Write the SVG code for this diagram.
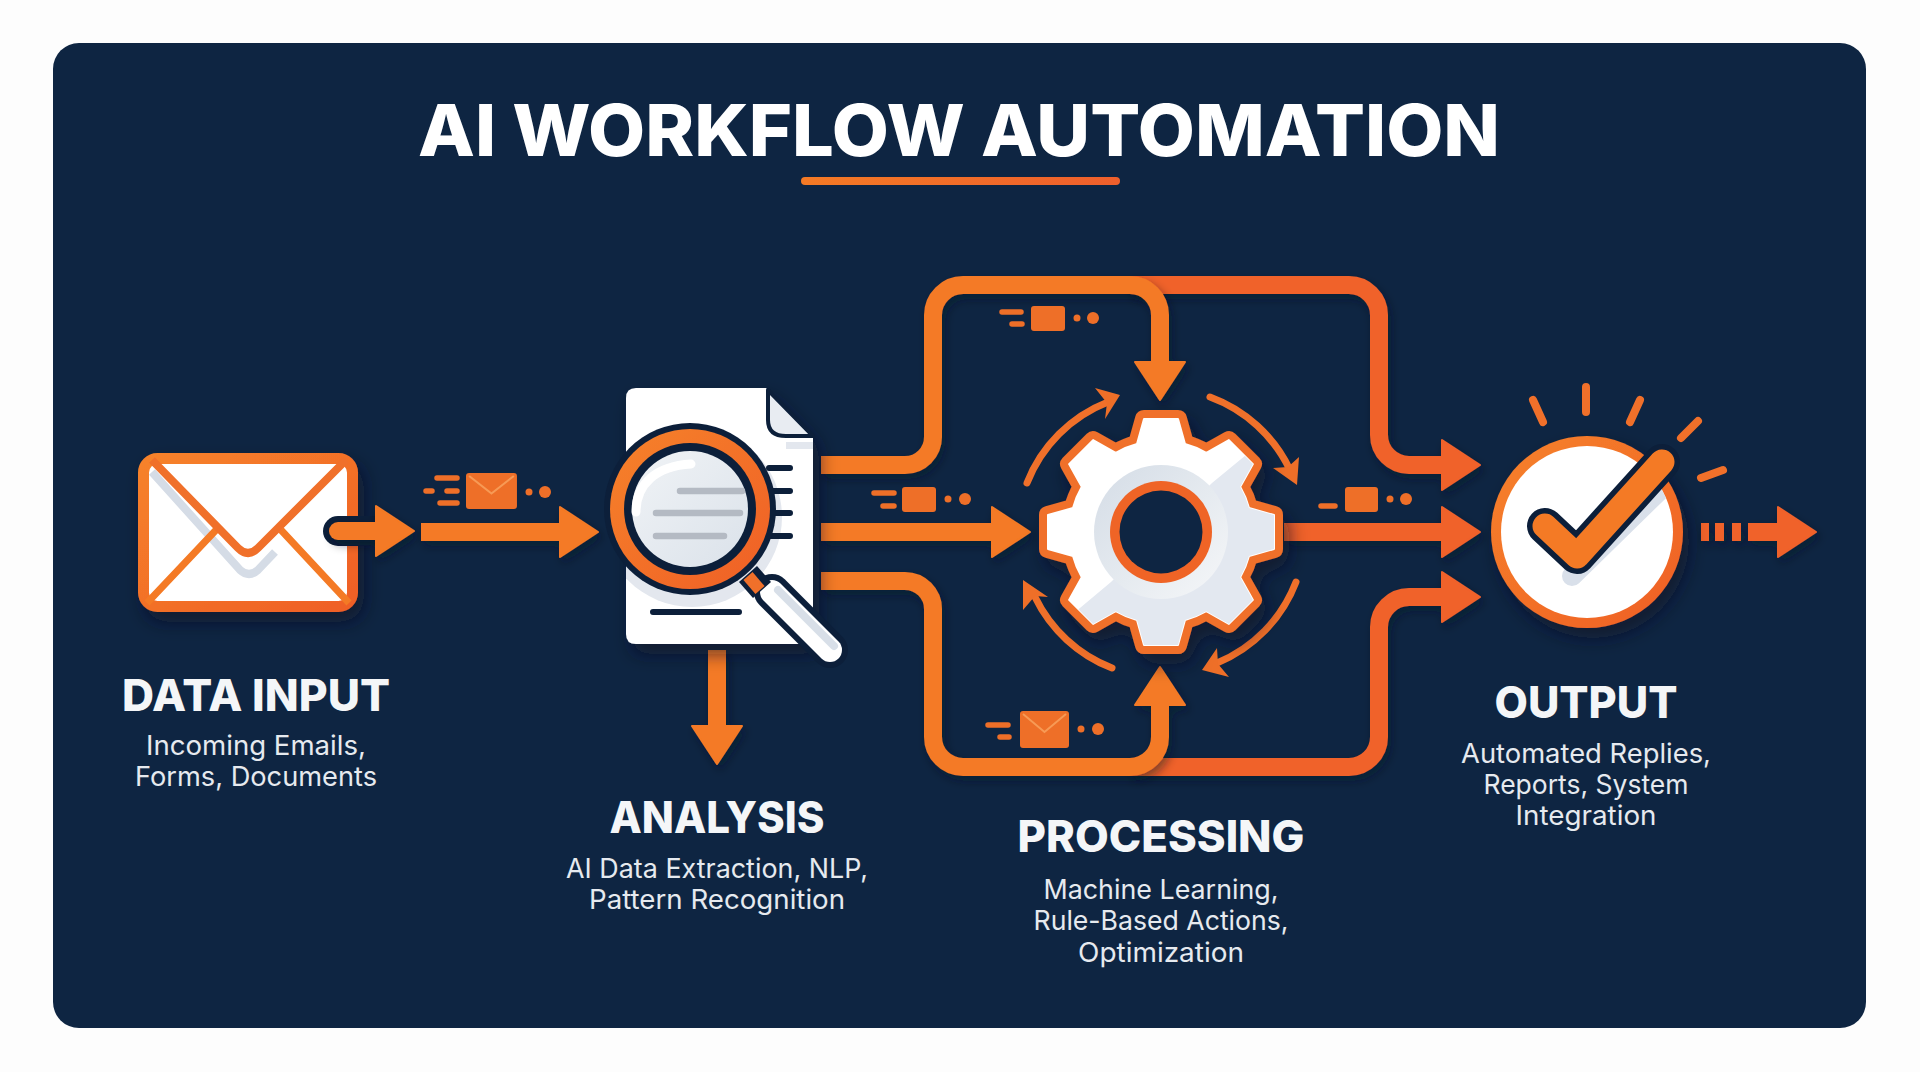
<svg xmlns="http://www.w3.org/2000/svg" xmlns:xlink="http://www.w3.org/1999/xlink" width="1920" height="1072" viewBox="0 0 1920 1072">
<style>
text{font-family:"Inter","Liberation Sans",sans-serif;fill:#f4f6f8;text-anchor:middle}
.title{font-size:72px;font-weight:800;fill:#fff}
.head{font-size:44px;font-weight:800}
.body{font-size:27px;font-weight:400;fill:#e6eaef}
.o{fill:none;stroke:#f47a25;stroke-width:18;filter:url(#ls)}
.r{fill:none;stroke:#f0622a;stroke-width:18;filter:url(#ls)}
.mo{fill:#ee6f28}
.sl{stroke:#ee6f28;stroke-width:5.5;stroke-linecap:round;fill:none}
.arc{fill:none;stroke:#f0702a;stroke-width:7;stroke-linecap:round}
.dk{fill:none;stroke:#0c1f3a;stroke-linecap:round;stroke-linejoin:round}
</style>
<defs>
<marker id="hO" viewBox="0 0 40 54" refX="1" refY="27" markerWidth="40" markerHeight="54" markerUnits="userSpaceOnUse" orient="auto"><path d="M1 2L39 27L1 52Z" fill="#f47a25" stroke="#f47a25" stroke-width="2" stroke-linejoin="round"/></marker>
<marker id="hR" viewBox="0 0 40 54" refX="1" refY="27" markerWidth="40" markerHeight="54" markerUnits="userSpaceOnUse" orient="auto"><path d="M1 2L39 27L1 52Z" fill="#f0622a" stroke="#f0622a" stroke-width="2" stroke-linejoin="round"/></marker>
<filter id="sh" x="-20%" y="-20%" width="150%" height="150%"><feDropShadow dx="6" dy="10" stdDeviation="9" flood-color="#071428" flood-opacity=".6"/></filter>
<filter id="ls" filterUnits="userSpaceOnUse" x="0" y="0" width="1920" height="1072"><feDropShadow dx="3" dy="5" stdDeviation="5" flood-color="#071428" flood-opacity=".45"/></filter>
<linearGradient id="frame" x1="0" y1="0" x2="1" y2="1"><stop offset="0" stop-color="#f6822a"/><stop offset="1" stop-color="#ef5f26"/></linearGradient>
<linearGradient id="ul" x1="0" y1="0" x2="1" y2="0"><stop offset="0" stop-color="#f47a25"/><stop offset="1" stop-color="#ee5f2c"/></linearGradient>
<linearGradient id="hub" x1="0" y1="0" x2="1" y2="1"><stop offset="0" stop-color="#d4dce6"/><stop offset=".55" stop-color="#e6ebf0"/><stop offset="1" stop-color="#f6f7f9"/></linearGradient>
<linearGradient id="lens" x1="0" y1="0" x2="1" y2="1"><stop offset="0" stop-color="#f0f3f6"/><stop offset="1" stop-color="#dbe2ea"/></linearGradient>
<path id="gearPath" d="M-24 -88L-17 -113L17 -113L24 -88A88 88 0 0 1 45.3 -79.2L67.9 -91.9L91.9 -67.9L79.2 -45.3A88 88 0 0 1 88 -24L113 -17L113 17L88 24A88 88 0 0 1 79.2 45.3L91.9 67.9L67.9 91.9L45.3 79.2A88 88 0 0 1 24 88L17 113L-17 113L-24 88A88 88 0 0 1 -45.3 79.2L-67.9 91.9L-91.9 67.9L-79.2 45.3A88 88 0 0 1 -88 24L-113 17L-113 -17L-88 -24A88 88 0 0 1 -79.2 -45.3L-91.9 -67.9L-67.9 -91.9L-45.3 -79.2A88 88 0 0 1 -24 -88Z"/>
<clipPath id="gearClip"><use href="#gearPath"/></clipPath>
<clipPath id="docClip"><path d="M636 388H766L813 436V644H636Q626 644 626 634V398Q626 388 636 388Z"/></clipPath>
<clipPath id="discClip"><circle cx="1587" cy="532" r="86"/></clipPath>
<g id="miniEnv"><path d="M0 3Q0 0 3 0H46Q49 0 49 3V34Q49 37 46 37H3Q0 37 0 34Z" class="mo"/><path d="M3 3L24.500 21L46 3" fill="none" stroke="#f79a55" stroke-width="2"/></g>
</defs>

<rect width="1920" height="1072" fill="#fdfdfd"/>
<rect id="panel" x="53" y="43" width="1813" height="985" rx="26" fill="#0e2542"/>

<g id="title">
<text class="title" x="959" y="155.500" textLength="1082" lengthAdjust="spacingAndGlyphs">AI WORKFLOW AUTOMATION</text>
<rect x="801" y="177" width="319" height="8" rx="4" fill="url(#ul)"/>
</g>

<g id="node-data-input">
<rect x="143.500" y="458.500" width="209" height="148" rx="14" fill="#fff" stroke="url(#frame)" stroke-width="11" filter="url(#sh)"/>
<path d="M152 472L240 570Q249 578 258 570L275 552" fill="none" stroke="#d5dce6" stroke-width="8"/>
<path d="M147 603L216 530M281 530L349 603" stroke="#f47a25" stroke-width="7" fill="none"/>
<path d="M152 460L238 548Q248 558 258 548L346 460" fill="none" stroke="#f0702a" stroke-width="8" stroke-linejoin="round"/>
</g>

<g id="connectors">
<path class="dk" stroke-width="30" d="M338 531H372"/>
<path class="o" style="stroke-linecap:round" d="M338 531H376" marker-end="url(#hO)"/>
<path class="o" d="M421 532H560" marker-end="url(#hO)"/>
<path class="o" d="M717 650V726" marker-end="url(#hO)"/>
<path class="o" d="M821 532H992" marker-end="url(#hO)"/>
<path class="r" d="M1284 532H1442" marker-end="url(#hR)"/>
<path class="r" d="M1130 285H1349A30 30 0 0 1 1379 315V435A30 30 0 0 0 1409 465H1442" marker-end="url(#hR)"/>
<path class="r" d="M1130 767H1349A30 30 0 0 0 1379 737V627A30 30 0 0 1 1409 597H1442" marker-end="url(#hR)"/>
<path class="o" d="M821 465H905A28 28 0 0 0 933 437V315A30 30 0 0 1 963 285H1130A30 30 0 0 1 1160 315V362" marker-end="url(#hO)"/>
<path class="o" d="M821 581H905A28 28 0 0 1 933 609V737A30 30 0 0 0 963 767H1130A30 30 0 0 0 1160 737V705" marker-end="url(#hO)"/>
<path class="r" d="M1701 532H1709M1715 532H1724M1732 532H1741M1748 532H1778" marker-end="url(#hR)"/>
</g>

<g id="packets">
<g id="packet-input">
<use href="#miniEnv" transform="translate(466 473) scale(1.04 .97)"/>
<path class="sl" d="M437 478H457M426 491H432M447 491H457M440 503H457"/>
<circle class="mo" cx="529" cy="492" r="3.500"/><circle class="mo" cx="545" cy="492" r="6"/>
</g>
<g id="packet-top">
<rect class="mo" x="1031" y="306" width="34" height="25" rx="3"/>
<path class="sl" d="M1002 312H1021M1012 324H1022"/>
<circle class="mo" cx="1077" cy="318" r="3.500"/><circle class="mo" cx="1093" cy="318" r="6"/>
</g>
<g id="packet-mid-left">
<rect class="mo" x="902" y="487" width="34" height="25" rx="3"/>
<path class="sl" d="M874 493H894M883 506H894"/>
<circle class="mo" cx="948" cy="499" r="3.500"/><circle class="mo" cx="965" cy="499" r="6"/>
</g>
<g id="packet-mid-right">
<rect class="mo" x="1345" y="487" width="33" height="25" rx="3"/>
<path class="sl" d="M1321 506H1335"/>
<circle class="mo" cx="1390" cy="499" r="3.500"/><circle class="mo" cx="1406" cy="499" r="6"/>
</g>
<g id="packet-bottom">
<use href="#miniEnv" transform="translate(1020 711)"/>
<path class="sl" d="M988 725H1008M1000 737H1009"/>
<circle class="mo" cx="1081" cy="729" r="3.500"/><circle class="mo" cx="1098" cy="729" r="6"/>
</g>
</g>

<g id="node-analysis">
<path d="M636 388H766L813 436V644H636Q626 644 626 634V398Q626 388 636 388Z" fill="#fff" filter="url(#sh)"/>
<path d="M786 442H813V449H786Z" fill="#e3e7ee"/>
<path d="M768 390V420Q768 436 786 436H813Z" fill="#e8ecf2" stroke="#0c1f3a" stroke-width="4" stroke-linejoin="round"/>
<circle cx="692" cy="517" r="90" fill="#e3e7ee" clip-path="url(#docClip)"/>
<path class="dk" stroke-width="6" d="M769 468H790M769 491H790M769 513H790M769 536H790M653 612H739"/>
<path class="dk" stroke-width="36" d="M772 592L830 650"/>
<path d="M772 592L830 650" stroke="#fff" stroke-width="24" stroke-linecap="round" fill="none"/>
<path d="M778 590L834 646" stroke="#d8dfe8" stroke-width="8" stroke-linecap="round" fill="none"/>
<path d="M748 574L762 590" stroke="#0c1f3a" stroke-width="24" fill="none"/>
<path d="M748 576L760 590" stroke="#f0702a" stroke-width="12" fill="none"/>
<circle cx="690" cy="509" r="86" fill="#0c1f3a"/>
<circle cx="690" cy="509" r="80" fill="url(#frame)"/>
<circle cx="690" cy="509" r="66" fill="#0c1f3a"/>
<circle cx="690" cy="509" r="58" fill="url(#lens)"/>
<path d="M636 512C636 484 656 466 691 464" fill="none" stroke="#fff" stroke-width="9" stroke-linecap="round"/>
<path d="M680 491H742M656 513H740M656 536H724" stroke="#b4bac3" stroke-width="6.500" stroke-linecap="round" fill="none"/>
</g>

<g id="node-processing">
<g class="cycle">
<path class="arc" d="M1027 483A143 143 0 0 1 1108 402"/><path class="mo" d="M1095 388L1120 395L1105 419L1107 403Z"/>
<path class="arc" d="M1210 397A143 143 0 0 1 1290 470"/><path class="mo" d="M1299 457L1297 485L1273 468L1288 467Z"/>
<path class="arc" d="M1296 582A143 143 0 0 1 1217 663"/><path class="mo" d="M1217 648L1202 670L1229 677L1218 664Z"/>
<path class="arc" d="M1112 668A143 143 0 0 1 1035 597"/><path class="mo" d="M1023 610L1023 580L1048 597L1035 596Z"/>
</g>
<g transform="translate(1161 532)">
<use href="#gearPath" fill="#f0702a" stroke="#f0702a" stroke-width="18" stroke-linejoin="round" filter="url(#sh)"/>
<use href="#gearPath" fill="#fff" stroke="#fff" stroke-width="2" stroke-linejoin="round"/>
<path clip-path="url(#gearClip)" d="M130 -125L85 -77L51 -49L-50 50L-87 81L-125 130H130Z" fill="#e3e8f0"/>
<circle r="67" fill="url(#hub)"/>
<circle r="51" fill="#ef6426"/>
<circle r="41.500" fill="#0e2542"/>
</g>
</g>

<g id="node-output">
<path d="M1533 400L1543 422M1586 387V412M1640 400L1630 422M1698 421L1681 438M1723 470L1701 478" stroke="#f0702a" stroke-width="8" stroke-linecap="round" fill="none"/>
<circle cx="1587" cy="532" r="96" fill="url(#frame)" filter="url(#sh)"/>
<circle cx="1587" cy="532" r="86" fill="#fff"/>
<path d="M1572 576L1662 488" stroke="#d9e0ea" stroke-width="20" stroke-linecap="round" fill="none" clip-path="url(#discClip)"/>
<path class="dk" stroke-width="36" d="M1545 526L1577 556L1662 462"/>
<path d="M1545 526L1577 556L1662 462" fill="none" stroke="#f47a25" stroke-width="25" stroke-linecap="round" stroke-linejoin="round"/>
</g>

<g id="labels">
<g id="label-data-input"><text class="head" x="256" y="711" textLength="268" lengthAdjust="spacingAndGlyphs">DATA INPUT</text>
<text class="body" x="256" y="755" textLength="220" lengthAdjust="spacingAndGlyphs">Incoming Emails,</text>
<text class="body" x="256" y="786" textLength="242" lengthAdjust="spacingAndGlyphs">Forms, Documents</text></g>
<g id="label-analysis"><text class="head" x="717" y="833" textLength="215" lengthAdjust="spacingAndGlyphs">ANALYSIS</text>
<text class="body" x="717" y="878" textLength="302" lengthAdjust="spacingAndGlyphs">AI Data Extraction, NLP,</text>
<text class="body" x="717" y="909" textLength="256" lengthAdjust="spacingAndGlyphs">Pattern Recognition</text></g>
<g id="label-processing"><text class="head" x="1161" y="852" textLength="287" lengthAdjust="spacingAndGlyphs">PROCESSING</text>
<text class="body" x="1161" y="899" textLength="235" lengthAdjust="spacingAndGlyphs">Machine Learning,</text>
<text class="body" x="1161" y="930" textLength="255" lengthAdjust="spacingAndGlyphs">Rule-Based Actions,</text>
<text class="body" x="1161" y="962" textLength="166" lengthAdjust="spacingAndGlyphs">Optimization</text></g>
<g id="label-output"><text class="head" x="1586" y="718" textLength="183" lengthAdjust="spacingAndGlyphs">OUTPUT</text>
<text class="body" x="1586" y="763" textLength="250" lengthAdjust="spacingAndGlyphs">Automated Replies,</text>
<text class="body" x="1586" y="794" textLength="205" lengthAdjust="spacingAndGlyphs">Reports, System</text>
<text class="body" x="1586" y="825" textLength="141" lengthAdjust="spacingAndGlyphs">Integration</text></g>
</g>
</svg>
